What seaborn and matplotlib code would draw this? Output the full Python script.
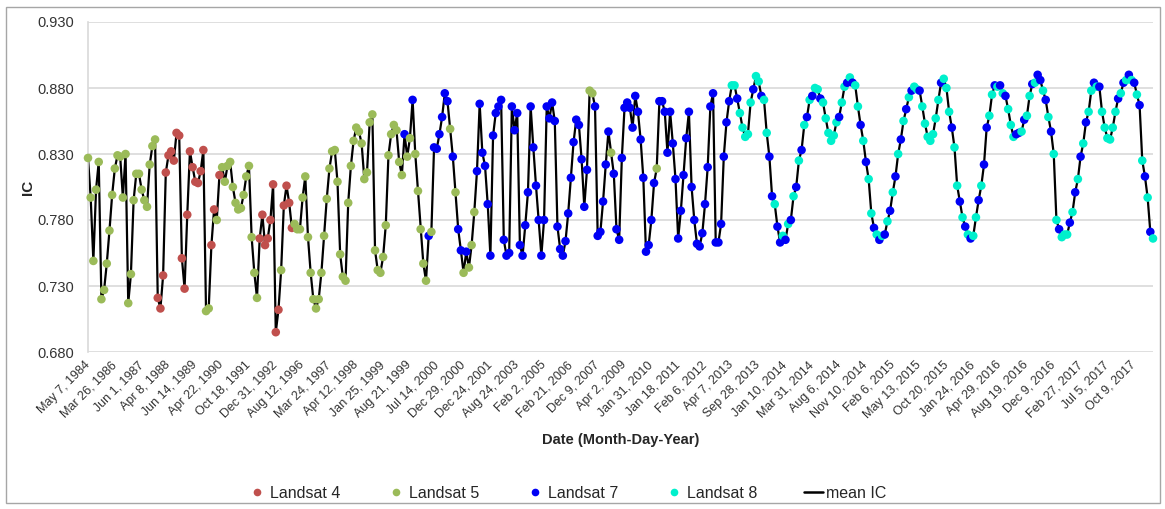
"""
Landsat mean IC time series - recreated with seaborn.
"""

import matplotlib
matplotlib.use("Agg")
import matplotlib.pyplot as plt
from matplotlib.lines import Line2D
from matplotlib.patches import Rectangle
import numpy as np
import pandas as pd
import seaborn as sns


# ── Data (one value per acquisition) ─────────────────────────────────────────

ic_values = [
    0.827, 0.797, 0.749, 0.803, 0.824, 0.720, 0.727, 0.747, 0.772, 0.799,
    0.819, 0.829, 0.828, 0.797, 0.830, 0.717, 0.739, 0.795, 0.815, 0.815,
    0.803, 0.795, 0.790, 0.822, 0.836, 0.841, 0.721, 0.713, 0.738, 0.816,
    0.829, 0.832, 0.825, 0.846, 0.844, 0.751, 0.728, 0.784, 0.832, 0.820,
    0.809, 0.808, 0.817, 0.833, 0.711, 0.713, 0.761, 0.788, 0.780, 0.814,
    0.820, 0.809, 0.821, 0.824, 0.805, 0.793, 0.788, 0.789, 0.799, 0.813,
    0.821, 0.767, 0.740, 0.721, 0.766, 0.784, 0.761, 0.766, 0.780, 0.807,
    0.695, 0.712, 0.742, 0.791, 0.806, 0.793, 0.774, 0.777, 0.773, 0.773,
    0.797, 0.813, 0.767, 0.740, 0.720, 0.713, 0.720, 0.740, 0.768, 0.796,
    0.819, 0.832, 0.833, 0.809, 0.754, 0.737, 0.734, 0.793, 0.821, 0.840,
    0.850, 0.847, 0.838, 0.811, 0.816, 0.854, 0.860, 0.757, 0.742, 0.740,
    0.752, 0.776, 0.829, 0.845, 0.852, 0.848, 0.824, 0.814, 0.845, 0.828,
    0.842, 0.871, 0.830, 0.802, 0.773, 0.747, 0.734, 0.768, 0.771, 0.835,
    0.834, 0.845, 0.858, 0.876, 0.870, 0.849, 0.828, 0.801, 0.773, 0.757,
    0.740, 0.756, 0.744, 0.761, 0.786, 0.817, 0.868, 0.831, 0.821, 0.792,
    0.753, 0.844, 0.861, 0.866, 0.871, 0.765, 0.753, 0.755, 0.866, 0.848,
    0.861, 0.761, 0.753, 0.776, 0.801, 0.866, 0.835, 0.806, 0.780, 0.753,
    0.780, 0.866, 0.857, 0.869, 0.855, 0.775, 0.758, 0.753, 0.764, 0.785,
    0.812, 0.839, 0.856, 0.852, 0.826, 0.790, 0.818, 0.878, 0.876, 0.866,
    0.768, 0.771, 0.794, 0.822, 0.847, 0.831, 0.815, 0.773, 0.765, 0.827,
    0.865, 0.869, 0.865, 0.850, 0.874, 0.862, 0.841, 0.812, 0.756, 0.761,
    0.780, 0.808, 0.819, 0.870, 0.870, 0.862, 0.831, 0.862, 0.838, 0.811,
    0.766, 0.787, 0.814, 0.842, 0.862, 0.805, 0.780, 0.762, 0.760, 0.770,
    0.792, 0.820, 0.866, 0.876, 0.763, 0.763, 0.777, 0.828, 0.854, 0.870,
    0.882, 0.882, 0.872, 0.861, 0.850, 0.843, 0.845, 0.869, 0.879, 0.889,
    0.885, 0.874, 0.871, 0.846, 0.828, 0.798, 0.792, 0.775, 0.763, 0.768,
    0.765, 0.777, 0.780, 0.798, 0.805, 0.825, 0.833, 0.852, 0.858, 0.871,
    0.874, 0.880, 0.879, 0.872, 0.869, 0.857, 0.846, 0.840, 0.844, 0.854,
    0.858, 0.869, 0.881, 0.884, 0.888, 0.884, 0.882, 0.866, 0.852, 0.840,
    0.824, 0.811, 0.785, 0.774, 0.769, 0.765, 0.768, 0.769, 0.779, 0.787,
    0.801, 0.813, 0.830, 0.841, 0.855, 0.864, 0.873, 0.878, 0.881, 0.879,
    0.878, 0.866, 0.853, 0.843, 0.840, 0.845, 0.857, 0.871, 0.884, 0.887,
    0.880, 0.862, 0.850, 0.835, 0.806, 0.794, 0.782, 0.775, 0.769, 0.766,
    0.768, 0.782, 0.795, 0.806, 0.822, 0.850, 0.859, 0.875, 0.882, 0.881,
    0.882, 0.876, 0.874, 0.864, 0.852, 0.843, 0.845, 0.846, 0.847, 0.856,
    0.859, 0.874, 0.883, 0.884, 0.890, 0.886, 0.878, 0.871, 0.858, 0.847,
    0.830, 0.780, 0.773, 0.767, 0.769, 0.769, 0.778, 0.786, 0.801, 0.811,
    0.828, 0.838, 0.854, 0.862, 0.878, 0.884, 0.881, 0.881, 0.862, 0.850,
    0.842, 0.841, 0.850, 0.862, 0.872, 0.876, 0.884, 0.886, 0.890, 0.886,
    0.884, 0.875, 0.867, 0.825, 0.813, 0.797, 0.771, 0.766,
]

# one character per acquisition: 4 / 5 / 7 / 8 = Landsat mission
sensor_codes = (
    "5555555555" "5555555555" "5555554444" "4444444444" "4444554454"
    "5555555555" "5555444444" "4454444555" "5555555555" "5555555555"
    "5555555555" "5555555575" "5755555757" "7777757577" "5755577777"
    "7777777777" "7777777777" "7777777777" "7777777557" "7777757777"
    "7777777777" "7757777777" "7777777777" "7777777777" "8878888878"
    "8788778778" "7878787878" "7887888888" "7887878878" "7887878787"
    "8787878788" "7888888878" "8878878787" "8878778878" "7878887787"
    "8878778787" "8878887878" "7878878788" "8888787878" "78787878"
)

tick_labels = [
    "May 7, 1984", "Mar 26, 1986", "Jun 1, 1987", "Apr 8, 1988",
    "Jun 14, 1989", "Apr 22, 1990", "Oct 18, 1991", "Dec 31, 1992",
    "Aug 12, 1996", "Mar 24, 1997", "Apr 12, 1998", "Jan 25, 1999",
    "Aug 21, 1999", "Jul 14, 2000", "Dec 29, 2000", "Dec 24, 2001",
    "Aug 24, 2003", "Feb 2, 2005", "Feb 21, 2006", "Dec 9, 2007",
    "Apr 2, 2009", "Jan 31, 2010", "Jan 18, 2011", "Feb 6, 2012",
    "Apr 7, 2013", "Sep 28, 2013", "Jan 10, 2014", "Mar 31, 2014",
    "Aug 6, 2014", "Nov 10, 2014", "Feb 6, 2015", "May 13, 2015",
    "Oct 20, 2015", "Jan 24, 2016", "Apr 29, 2016", "Aug 19, 2016",
    "Dec 9, 2016", "Feb 27, 2017", "Jul 5, 2017", "Oct 9, 2017",
]
tick_step = 10

y_ticks = [0.680, 0.730, 0.780, 0.830, 0.880, 0.930]

sensor_names = {"4": "Landsat 4", "5": "Landsat 5", "7": "Landsat 7", "8": "Landsat 8"}
sensor_colors = {
    "Landsat 4": "#C0504D",
    "Landsat 5": "#9BBB59",
    "Landsat 7": "#0000F5",
    "Landsat 8": "#00F0CC",
}

df = pd.DataFrame({
    "idx": np.arange(len(ic_values)),
    "ic": ic_values,
    "sensor": [sensor_names[c] for c in sensor_codes],
})


# ── Figure ───────────────────────────────────────────────────────────────────

sns.set_style("white")
plt.rcParams["font.family"] = ["Liberation Sans", "DejaVu Sans"]

W, H = 1165, 509
fig = plt.figure(figsize=(W / 100, H / 100), dpi=100)
ax = fig.add_axes([88 / W, 1 - 352 / H, (1153 - 88) / W, (352 - 22) / H])

sns.lineplot(data=df, x="idx", y="ic", color="black", linewidth=1.6,
             ax=ax, zorder=2, legend=False)
sns.scatterplot(data=df, x="idx", y="ic", hue="sensor", palette=sensor_colors,
                s=38, linewidth=0, ax=ax, zorder=3, legend=False, clip_on=False)

ax.set_xlim(0, len(ic_values) - 1)
ax.set_ylim(y_ticks[0], y_ticks[-1])
ax.set_yticks(y_ticks)
ax.set_yticklabels([f"{v:.3f}" for v in y_ticks], fontsize=10.5, color="#333333")
ax.set_xticks(df["idx"].values[::tick_step])
ax.set_xticklabels(tick_labels, rotation=45, ha="right", va="center",
                   rotation_mode="anchor", fontsize=9, color="#333333")
ax.tick_params(axis="both", length=0)
ax.tick_params(axis="x", pad=8)
ax.tick_params(axis="y", pad=10)

ax.grid(axis="y", color="#D9D9D9", linewidth=1.2)
ax.grid(axis="x", visible=False)
for side in ["top", "right", "bottom"]:
    ax.spines[side].set_visible(False)
ax.spines["left"].set_color("#D9D9D9")
ax.spines["left"].set_linewidth(1.2)

ax.set_ylabel("IC", fontsize=11, fontweight="bold")
ax.yaxis.set_label_coords(-0.050, 0.5)
ax.set_xlabel("Date (Month-Day-Year)", fontsize=10.5, fontweight="bold")
ax.xaxis.set_label_coords(0.5, -0.267)
ax.xaxis.label.set_va("center")

# legend below the plot
handles = [Line2D([], [], marker="o", linestyle="", markersize=5.5,
                  markerfacecolor=c, markeredgewidth=0)
           for c in sensor_colors.values()]
handles.append(Line2D([], [], color="black", linewidth=1.8))
labels = list(sensor_colors.keys()) + ["mean IC"]
fig.legend(handles, labels, loc="center", bbox_to_anchor=(567 / W, 1 - 493 / H),
           ncol=5, frameon=False, fontsize=11.5, handlelength=1.2,
           handletextpad=0.2, columnspacing=2.9)

# chart-area border
fig.patches.append(Rectangle((6 / W, 1 - 503 / H), (1160 - 6) / W, (503 - 7) / H,
                             transform=fig.transFigure, fill=False,
                             edgecolor="#A6A6A6", linewidth=1.0))

fig.savefig("out.png", dpi=100)
plt.close("all")
